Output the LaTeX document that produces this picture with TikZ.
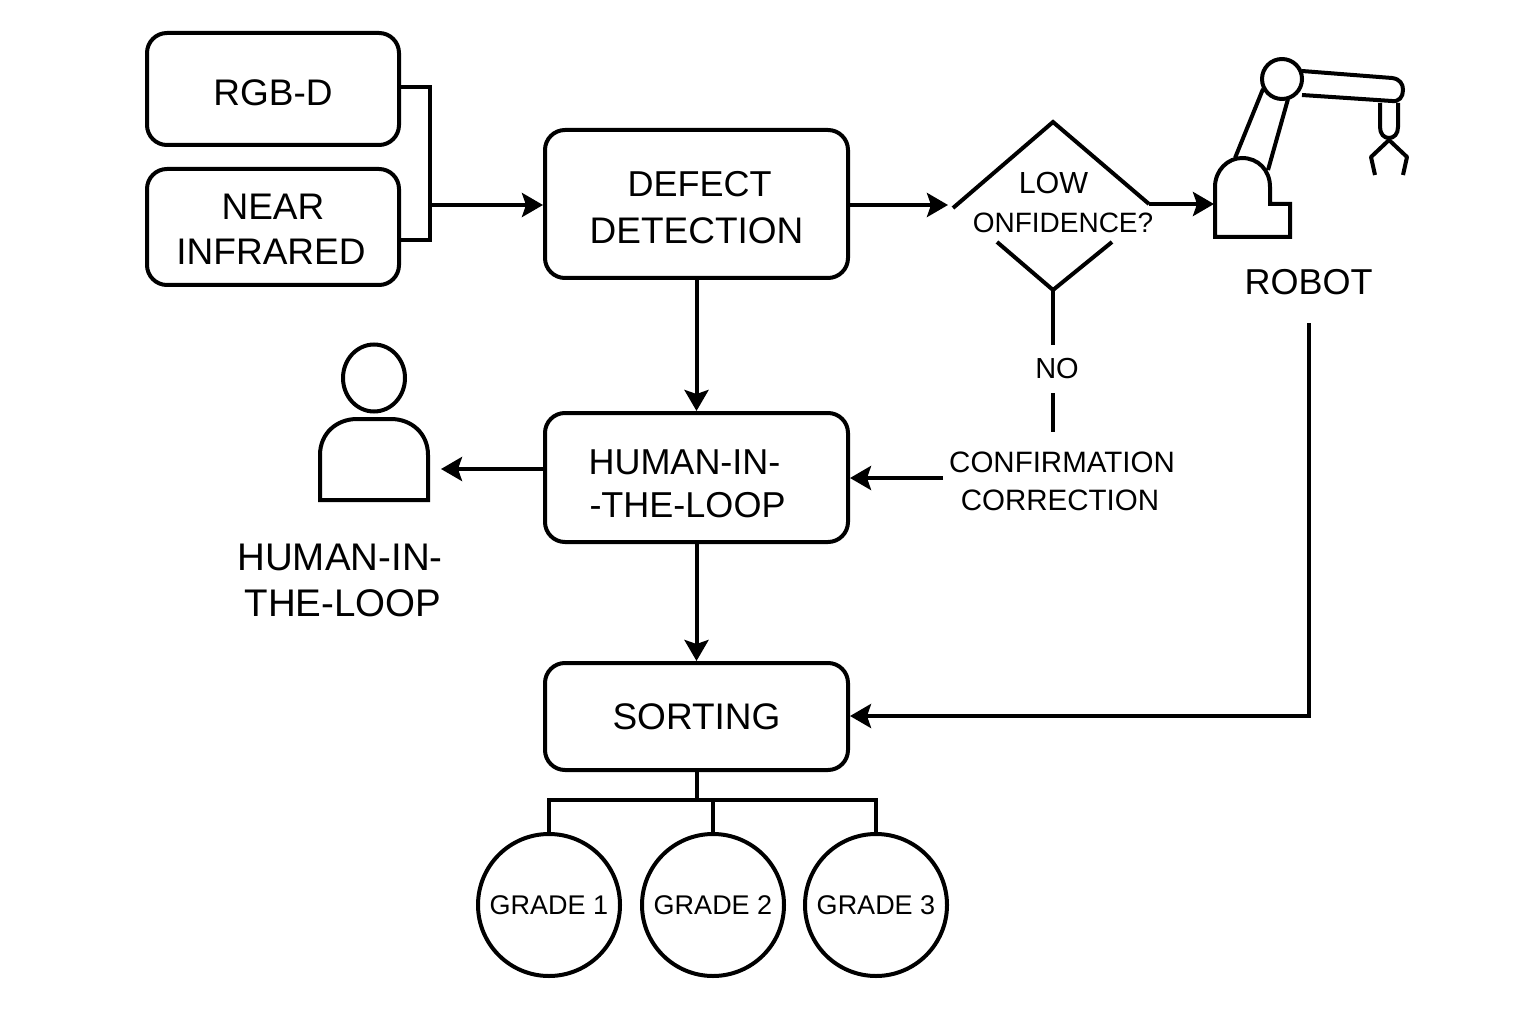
\documentclass[tikz,border=0pt]{standalone}
\usepackage{fontspec}
\setmainfont{Liberation Sans}
\usetikzlibrary{arrows.meta,calc,shapes.geometric}
\newcommand{\fs}[1]{\fontsize{#1}{#1}\selectfont}
\newcommand{\lift}[1]{\rule{0pt}{#1pt}}
\tikzset{
  ln/.style={line width=4pt,black},
  arr/.style={ln,-{Stealth[length=21pt,width=24pt,inset=4pt]}},
  boxnode/.style={draw,line width=4pt,rounded corners=20pt,align=center,inner sep=0pt,anchor=center},
  gradenode/.style={draw,line width=4pt,circle,minimum size=142pt,inner sep=0pt,font=\fs{27}},
  lab/.style={align=center,inner sep=0pt},
}
\begin{document}
\begin{tikzpicture}[x=1pt,y=-1pt]
\useasboundingbox (0,0) rectangle (1536,1024);
\fill[white] (0,0) rectangle (1536,1024);

% boxes
\node[boxnode,minimum width=252pt,minimum height=112pt,font=\fs{37}] (rgb) at (273,89) {\lift{33}RGB-D};
\node[boxnode,minimum width=252pt,minimum height=116pt,font=\fs{37}] (nir) at (273,227) {\lift{30}NEAR\\[8pt]\hspace*{-4pt}INFRARED};
\node[boxnode,minimum width=303pt,minimum height=148pt,font=\fs{36}] (dd) at (696.5,204) {\lift{33}\hspace*{6pt}DEFECT\\[11pt]{\fs{37}DETECTION}};
\node[boxnode,minimum width=303pt,minimum height=129pt,font=\fs{36}] (hil) at (696.5,477.5) {\lift{37}\hspace*{-24pt}HUMAN-IN-\\[7pt]\hspace*{-18pt}-THE-LOOP};
\node[boxnode,minimum width=303pt,minimum height=107pt,font=\fs{37}] (sort) at (696.5,716.5) {SORTING};

% grades
\node[gradenode] (g1) at (549,905) {GRADE 1};
\node[gradenode] (g2) at (713,905) {GRADE 2};
\node[gradenode] (g3) at (876,905) {GRADE 3};

% decision diamond (outline broken around its text)
\node[lab,font=\fs{28}] (dec) at (1063,202) {\hspace*{-19pt}{\fs{30.5}LOW}\\[11pt]ONFIDENCE?};
\coordinate (dL) at (953,208);
\coordinate (dT) at (1053,122);
\coordinate (dR) at (1149,204);
\coordinate (dB) at (1053,290);
\draw[ln] (dL) -- (dT) -- (dR);
\draw[ln] (997,242) -- (dB) -- (1112,242);

% texts
\node[lab,font=\fs{29}] (no) at (1057,369) {NO};
\node[lab,font=\fs{29.5}] (conf) at (1062,481.5) {CONFIRMATION\\[9pt]\hspace*{-4pt}CORRECTION};
\node[lab,font=\fs{36}] (robotlab) at (1308.5,282) {ROBOT};
\node[lab,font=\fs{38.5}] (humanlab) at (340,580.5) {HUMAN-IN-\\[7pt]\hspace*{6pt}THE-LOOP};

% robot icon
\begin{scope}[ln,line join=round]
\draw[miter limit=4,line join=miter] (1215,237) -- (1215,187) .. controls (1215,170) and (1228,158) .. (1242,158) .. controls (1258,158) and (1270,170) .. (1270,187) -- (1270,204) -- (1290,204) -- (1290,237) -- cycle;
\draw (1235,158) -- (1263,89);
\draw (1268,170) -- (1288,99);
\draw (1302,71) -- (1392,78) .. controls (1400,79) and (1403,84) .. (1403,90) .. controls (1403,97) and (1399,102) .. (1392,101) -- (1302,95);
\node[draw,line width=4pt,circle,minimum size=40pt,inner sep=0pt] (joint) at (1282,79) {};
\draw (1380,103) -- (1380,127) .. controls (1380,134) and (1384,138) .. (1389,138) .. controls (1394,138) and (1398,134) .. (1398,127) -- (1398,103);
\coordinate (claw) at (1389,140);
\draw (1375,175) -- (1371,157) -- (claw) -- (1407,157) -- (1403,175);
\coordinate (robotin) at (1214,204);
\end{scope}

% person icon
\begin{scope}[ln]
\node[draw,line width=4pt,ellipse,minimum width=62pt,minimum height=67pt,inner sep=0pt] (head) at (374,378) {};
\draw (320,500) -- (320,455) .. controls (320,433) and (337,419) .. (357,419) -- (391,419) .. controls (411,419) and (428,433) .. (428,455) -- (428,500) -- cycle;
\coordinate (personin) at (441,469);
\end{scope}

% connectors
\coordinate (bus) at (430,205);
\draw[ln,line join=miter] (rgb.east |- 0,87) -| (430,240) -- (nir.east |- 0,240);
\draw[arr] (bus) -- (dd.west |- bus);
\draw[arr] (dd.east |- 0,205) -- (948,205);
\draw[arr] (dR) -- (robotin);
\draw[arr] (dd.south) -- (hil.north);
\draw[arr] (hil.west |- 0,469) -- (personin);
\draw[arr] (hil.south) -- (sort.north);
\draw[ln] (dB) -- (1053,345);
\draw[ln] (1053,393) -- (1053,432);
\draw[arr] (943,478) -- (hil.east |- 0,478);
\coordinate (rt) at (1309,323);
\draw[arr,line join=miter] (rt) -- (1309,716) -- (sort.east |- 0,716);
\coordinate (tree) at (696.5,800);
\draw[ln] (sort.south) -- (tree);
\draw[ln,line join=miter] (g1.north) -- (g1.north |- tree) -- (g3.north |- tree) -- (g3.north);
\draw[ln] (g2.north) -- (g2.north |- tree);
\end{tikzpicture}
\end{document}
